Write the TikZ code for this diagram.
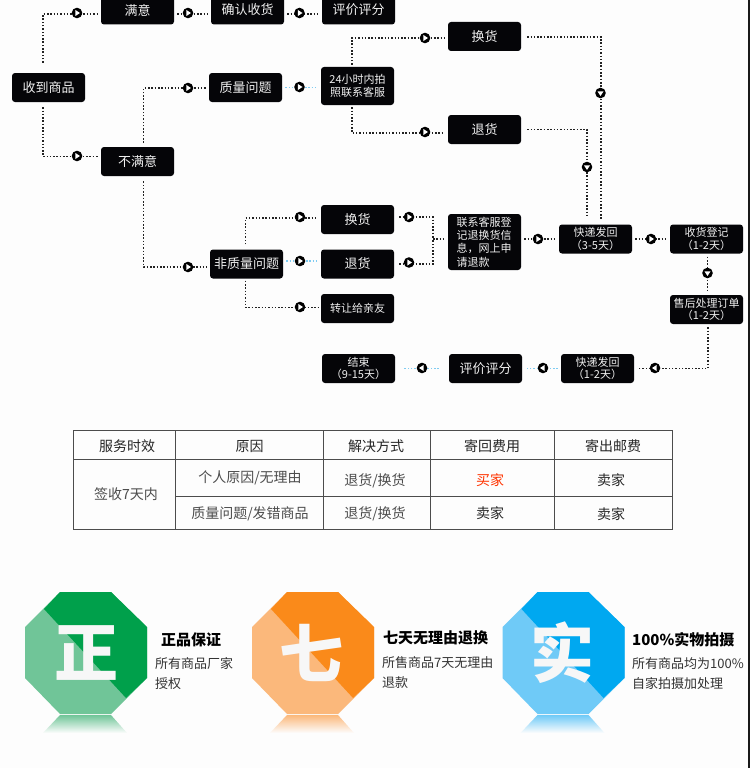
\documentclass[tikz,border=0pt]{standalone}
\usepackage{fontspec}
\setmainfont{Noto Sans CJK SC}
\definecolor{pageBg}{HTML}{FDFDFD}
\definecolor{boxBk}{HTML}{050508}
\definecolor{dotBk}{HTML}{222222}
\definecolor{dotBl}{HTML}{7FCCF2}
\definecolor{greenD}{HTML}{00A04B}
\definecolor{greenL}{HTML}{70C598}
\definecolor{orangeD}{HTML}{FA8A1A}
\definecolor{orangeL}{HTML}{FBB87B}
\definecolor{blueD}{HTML}{00A8F0}
\definecolor{blueL}{HTML}{6FCAF7}
\tikzset{
  box/.style={fill=boxBk, text=white!94!black, rounded corners=3pt, minimum width=73pt,
    minimum height=29pt, inner sep=0pt, align=center, font=\fontsize{13}{15}\selectfont},
  boxs/.style={box, font=\fontsize{11}{12.5}\selectfont},
  link/.style={dotBk, line width=1.5pt, dash pattern=on 1.5pt off 1.8pt, shorten <=3pt, shorten >=3pt},
  linkb/.style={link, dotBl},
  knob/.pic={
    \fill[black] (0,0) circle (5.3);
    \fill[white] (-1.6,-3) -- (-1.6,3) -- (3,0) -- cycle;
  },
  cell/.style={font=\fontsize{14}{16}\selectfont, text=black!70},
  head/.style={cell, text=black!85},
  title/.style={anchor=west, inner sep=0pt, font=\fontsize{15}{17}\bfseries\selectfont, text=black},
  desc/.style={anchor=west, inner sep=0pt, font=\fontsize{13}{15}\selectfont, text=black!80}
}

\begin{document}
\begin{tikzpicture}[x=1pt,y=-1pt]

  % --- Page ---
  \fill[pageBg] (0,0) rectangle (750,768);
  \fill[black!90] (748,0) rectangle (750,768);
  \useasboundingbox (0,0) rectangle (750,768);

  % --- Boxes ---
  \node[box]  (Shou)   at (48.5,87.5)  {收到商品};
  \node[box]  (Manyi)  at (137.5,10)   {满意};
  \node[box]  (Queren) at (247.5,10)   {确认收货};
  \node[box]  (Pingjia) at (358.5,10)  {评价评分};
  \node[box]  (Bumanyi) at (137.5,161.5) {不满意};
  \node[box]  (Zhiliang) at (245.5,87.5) {质量问题};
  \node[boxs, minimum height=38pt, font=\fontsize{11}{13}\selectfont] (Lianxi) at (357.5,86) {24小时内拍\\照联系客服};
  \node[box]  (HuanA)  at (484.5,36.5) {换货};
  \node[box]  (TuiA)   at (484.5,129.5) {退货};
  \node[box]  (Feizhi) at (246.5,264)  {非质量问题};
  \node[box]  (HuanB)  at (357.5,219.5) {换货};
  \node[box]  (TuiB)   at (357.5,264)  {退货};
  \node[boxs] (Zhuan)  at (357.5,308.5) {转让给亲友};
  \node[boxs, minimum height=56pt, text width=56pt, align=left, font=\fontsize{11}{13.3}\selectfont] (Dengji) at (484.5,242)
    {联系客服登\\记退换货信\\息，网上申\\请退款};
  \node[boxs] (FaA)    at (595.5,239)  {快递发回\\（3-5天）};
  \node[boxs] (Shouhuo) at (706.5,239) {收货登记\\（1-2天）};
  \node[boxs] (Shouhou) at (706.5,309.5) {售后处理订单\\（1-2天）};
  \node[boxs] (FaB)    at (597.5,368.5) {快递发回\\（1-2天）};
  \node[box]  (PingB)  at (485.5,368.5) {评价评分};
  \node[boxs] (Jieshu) at (358.5,368.5) {结束\\（9-15天）};

  % --- Connectors ---
  \coordinate (Merge) at (433,239);
  \draw[link, shorten <=10pt] ([xshift=-5.5]Shou.north) |- ([yshift=-4]Manyi.west);
  \draw[link] ([yshift=-4]Manyi.east) -- ([yshift=-4]Queren.west);
  \draw[link] ([yshift=-4]Queren.east) -- ([yshift=-4]Pingjia.west);
  \draw[link, shorten <=5pt] ([xshift=-5.5]Shou.south) |- ([yshift=5]Bumanyi.west);
  \draw[link, shorten <=4pt] ([xshift=6]Bumanyi.north) |- ([yshift=-0.5]Zhiliang.west);
  \draw[linkb] (Zhiliang.east) -- (Zhiliang.east -| Lianxi.west);
  \draw[link, shorten <=2pt] ([xshift=-5.5]Lianxi.north) |- ([yshift=-1.5]HuanA.west);
  \draw[link, shorten <=2pt] ([xshift=-5.5]Lianxi.south) |- ([yshift=-3.5]TuiA.west);
  \draw[link, shorten <=6pt, shorten >=5pt] ([yshift=-0.5]HuanA.east) -| ([xshift=5.5]FaA.north);
  \draw[link, shorten <=6pt, shorten >=7pt] (TuiA.east) -| ([xshift=-8.5]FaA.north);
  \draw[link, shorten <=5pt] ([xshift=6]Bumanyi.south) |- ([yshift=-3]Feizhi.west);
  \draw[link, shorten <=5pt] ([xshift=-1]Feizhi.north) |- ([yshift=1.5]HuanB.west);
  \draw[linkb] ([yshift=3]Feizhi.east) -- ([yshift=3]TuiB.west);
  \draw[link, shorten <=2pt] ([xshift=-1]Feizhi.south) |- ([yshift=1]Zhuan.west);
  \draw[link, shorten <=5pt, shorten >=0pt] ([yshift=2.5]HuanB.east) -| (Merge);
  \draw[link, shorten <=5pt, shorten >=0pt] (TuiB.east) -| (Merge);
  \draw[link, shorten <=0pt] (Merge) -- (Merge -| Dengji.west);
  \draw[link] (Dengji.east |- FaA.west) -- (FaA.west);
  \draw[link] (FaA.east) -- (Shouhuo.west);
  \draw[link] ([xshift=1]Shouhuo.south) -- ([xshift=1]Shouhuo.south |- Shouhou.north);
  \draw[link] ([xshift=1.5]Shouhou.south) |- (FaB.east);
  \draw[linkb] (FaB.west) -- (PingB.east);
  \draw[linkb, shorten <=10pt, shorten >=9pt] (PingB.west) -- (Jieshu.east);

  % --- Knobs ---
  \foreach \px/\py in {77/13, 188/13, 299.5/13, 77/156, 188/88, 299.5/87, 425/38, 425/132,
      188/267, 300/217, 300/261, 300/307, 409/217, 409/262.5, 538/239, 651/239}
    \pic at (\px,\py) {knob};
  \foreach \px/\py in {600.5/93, 587/167, 707.5/273}
    \pic[rotate=-90] at (\px,\py) {knob};
  \foreach \px/\py in {655/368, 543/368, 422/368}
    \pic[rotate=180] at (\px,\py) {knob};

  % --- Table ---
  \draw[black!70, line width=0.9pt] (73.5,430.5) rectangle (672.5,529);
  \draw[black!70, line width=0.9pt] (73.5,459.5) -- (672.5,459.5);
  \draw[black!70, line width=0.9pt] (175.5,496) -- (672.5,496);
  \foreach \tx in {175.5,323.5,430.5,554.5}
    \draw[black!70, line width=0.9pt] (\tx,430.5) -- (\tx,529);

  \node[head] (TA) at (127,446) {服务时效};
  \node[head] (TB) at (249.5,446) {原因};
  \node[head] (TC) at (376,446) {解决方式};
  \node[head] (TD) at (492,446) {寄回费用};
  \node[head] (TE) at (613,446) {寄出邮费};
  \node[cell] (TF) at (126,494.5) {签收7天内};
  \node[cell] (TG) at (250,478) {个人原因/无理由};
  \node[cell] (TH) at (250,514) {质量问题/发错商品};
  \node[cell] (TI) at (375,481) {退货/换货};
  \node[cell] (TJ) at (375,514) {退货/换货};
  \node[cell, text=red!60!orange] (TK) at (490,480) {买家};
  \node[head] (TL) at (611,480) {卖家};
  \node[head] (TM) at (490,513) {卖家};
  \node[head] (TN) at (611,514) {卖家};

  % --- Badges ---
  \foreach \dx/\cD/\cL/\zi/\zx in {0/greenD/greenL/正/86, 227/orangeD/orangeL/七/84, 477.5/blueD/blueL/实/85} {
    \begin{scope}[xshift=\dx pt]
      \fill[\cL] (60,592) -- (111,592) -- (147,627) -- (147,678) -- (111,714) -- (60,714) -- (25,678) -- (25,627) -- cycle;
      \fill[\cD] (44,609) -- (60,592) -- (111,592) -- (147,627) -- (147,678) -- (126,698) -- cycle;
      \shade[top color=\cL, bottom color=pageBg] (60,715) -- (111,715) -- (127,733) -- (43,733) -- cycle;
      \node[text=white!97!black, inner sep=0pt, font=\fontsize{64}{64}\bfseries\selectfont] (Zi\zx) at (\zx,653) {\zi};
    \end{scope}
  }

  % --- Badge texts ---
  \node[title] (ZhengT) at (161,640) {正品保证};
  \node[desc]  (ZhengA) at (155,664) {所有商品厂家};
  \node[desc]  (ZhengB) at (155,684) {授权};
  \node[title] (QiT) at (383,638) {七天无理由退换};
  \node[desc]  (QiA) at (382,663) {所售商品7天无理由};
  \node[desc]  (QiB) at (382,683) {退款};
  \node[title] (ShiT) at (632,640) {100\%实物拍摄};
  \node[desc]  (ShiA) at (632,664) {所有商品均为100\%};
  \node[desc]  (ShiB) at (632,684) {自家拍摄加处理};

\end{tikzpicture}
\end{document}
